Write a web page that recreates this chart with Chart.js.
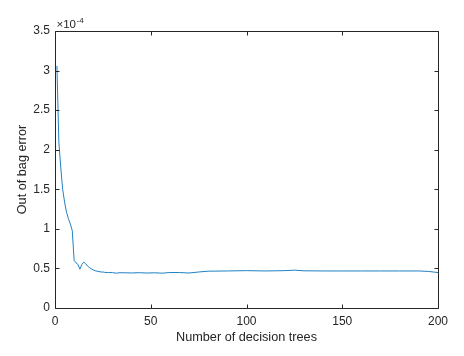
<!DOCTYPE html>
<html>
<head>
<meta charset="utf-8">
<style>
  html, body { margin: 0; padding: 0; background: #ffffff; }
  canvas { display: block; }
</style>
<script src="https://cdn.jsdelivr.net/npm/chart.js@4/dist/chart.umd.min.js"></script>
</head>
<body>
<canvas id="c" width="464" height="356"></canvas>
<script>
// Number of trees (x) and out-of-bag error in units of 1e-4 (y)
const treeCounts = [1, 2, 3, 4, 5, 6, 7, 8, 9, 10, 11, 12, 13, 14, 15, 16, 17, 18, 19, 20,
  21, 22, 23, 24, 25, 26, 28, 30, 32, 34, 36, 40, 44, 48, 52, 56, 60, 65, 70, 75,
  80, 90, 100, 110, 120, 125, 130, 140, 150, 160, 170, 180, 190, 195, 200];
const oobError = [3.06, 2.10, 1.78, 1.50, 1.34, 1.21, 1.13, 1.06, 0.98, 0.60, 0.57, 0.55, 0.49, 0.55, 0.58, 0.56, 0.53, 0.51, 0.495, 0.48,
  0.47, 0.465, 0.46, 0.455, 0.455, 0.45, 0.448, 0.447, 0.44, 0.446, 0.445, 0.443, 0.446, 0.442, 0.445, 0.44, 0.448, 0.448, 0.442, 0.455,
  0.465, 0.468, 0.472, 0.468, 0.472, 0.478, 0.47, 0.468, 0.468, 0.468, 0.468, 0.468, 0.468, 0.462, 0.448];
const xTicks = [0, 50, 100, 150, 200];
const yTicks = [0, 0.5, 1, 1.5, 2, 2.5, 3, 3.5];
const yExponent = '-4';
const xTitle = 'Number of decision trees';
const yTitle = 'Out of bag error';

const axisColor = '#262626';
const fontFamily = '"Liberation Sans", Arial, Helvetica, sans-serif';

const boxPlugin = {
  id: 'matlabBox',
  afterDraw(chart) {
    const ctx = chart.ctx;
    const a = chart.chartArea;
    const xs = chart.scales.x, ys = chart.scales.y;
    const L = Math.round(a.left) + 0.5, R = Math.round(a.right) + 0.5;
    const T = Math.round(a.top) + 0.5, B = Math.round(a.bottom) + 0.5;
    const tl = 4;
    ctx.save();
    ctx.strokeStyle = axisColor;
    ctx.lineWidth = 1;
    ctx.beginPath();
    ctx.rect(L, T, R - L, B - T);
    xTicks.forEach(v => {
      const px = Math.round(xs.getPixelForValue(v)) + 0.5;
      ctx.moveTo(px, B); ctx.lineTo(px, B - tl);
      ctx.moveTo(px, T); ctx.lineTo(px, T + tl);
    });
    yTicks.forEach(v => {
      const py = Math.round(ys.getPixelForValue(v)) + 0.5;
      ctx.moveTo(L, py); ctx.lineTo(L + tl, py);
      ctx.moveTo(R, py); ctx.lineTo(R - tl, py);
    });
    ctx.stroke();
    // exponent label
    ctx.fillStyle = axisColor;
    ctx.textBaseline = 'alphabetic';
    ctx.textAlign = 'left';
    ctx.font = '11.5px ' + fontFamily;
    const base = '\u00d710';
    ctx.fillText(base, L + 1, T - 4);
    const w = ctx.measureText(base).width;
    ctx.font = '8px ' + fontFamily;
    ctx.fillText(yExponent, L + 1 + w + 0.5, T - 8.5);
    ctx.restore();
  }
};

new Chart(document.getElementById('c'), {
  type: 'line',
  data: {
    datasets: [{
      data: treeCounts.map((x, i) => ({ x: x, y: oobError[i] })),
      borderColor: '#1f80c4',
      borderWidth: 1,
      pointRadius: 0,
      tension: 0,
      fill: false
    }]
  },
  options: {
    responsive: false,
    animation: false,
    layout: { padding: { left: 0, top: 31, right: 26, bottom: 0 } },
    plugins: { legend: { display: false }, tooltip: { enabled: false } },
    scales: {
      x: {
        type: 'linear',
        min: 0, max: 200,
        afterBuildTicks(scale) { scale.ticks = xTicks.map(v => ({ value: v })); },
        afterFit(scale) { scale.height = 48; },
        grid: { display: false, drawTicks: false },
        border: { display: false },
        ticks: { color: axisColor, font: { family: fontFamily, size: 12 }, padding: 6, maxRotation: 0 },
        title: { display: true, text: xTitle, color: axisColor, font: { family: fontFamily, size: 12.7 }, padding: { top: 0, bottom: 11 } }
      },
      y: {
        type: 'linear',
        min: 0, max: 3.5,
        afterBuildTicks(scale) { scale.ticks = yTicks.map(v => ({ value: v })); },
        afterFit(scale) { scale.width = 55; },
        grid: { display: false, drawTicks: false },
        border: { display: false },
        ticks: { color: axisColor, font: { family: fontFamily, size: 12 }, padding: 5, callback: v => String(v) },
        title: { display: true, text: yTitle, color: axisColor, font: { family: fontFamily, size: 12.7 }, padding: { top: 15, bottom: 0 } }
      }
    }
  },
  plugins: [boxPlugin]
});
</script>
</body>
</html>
